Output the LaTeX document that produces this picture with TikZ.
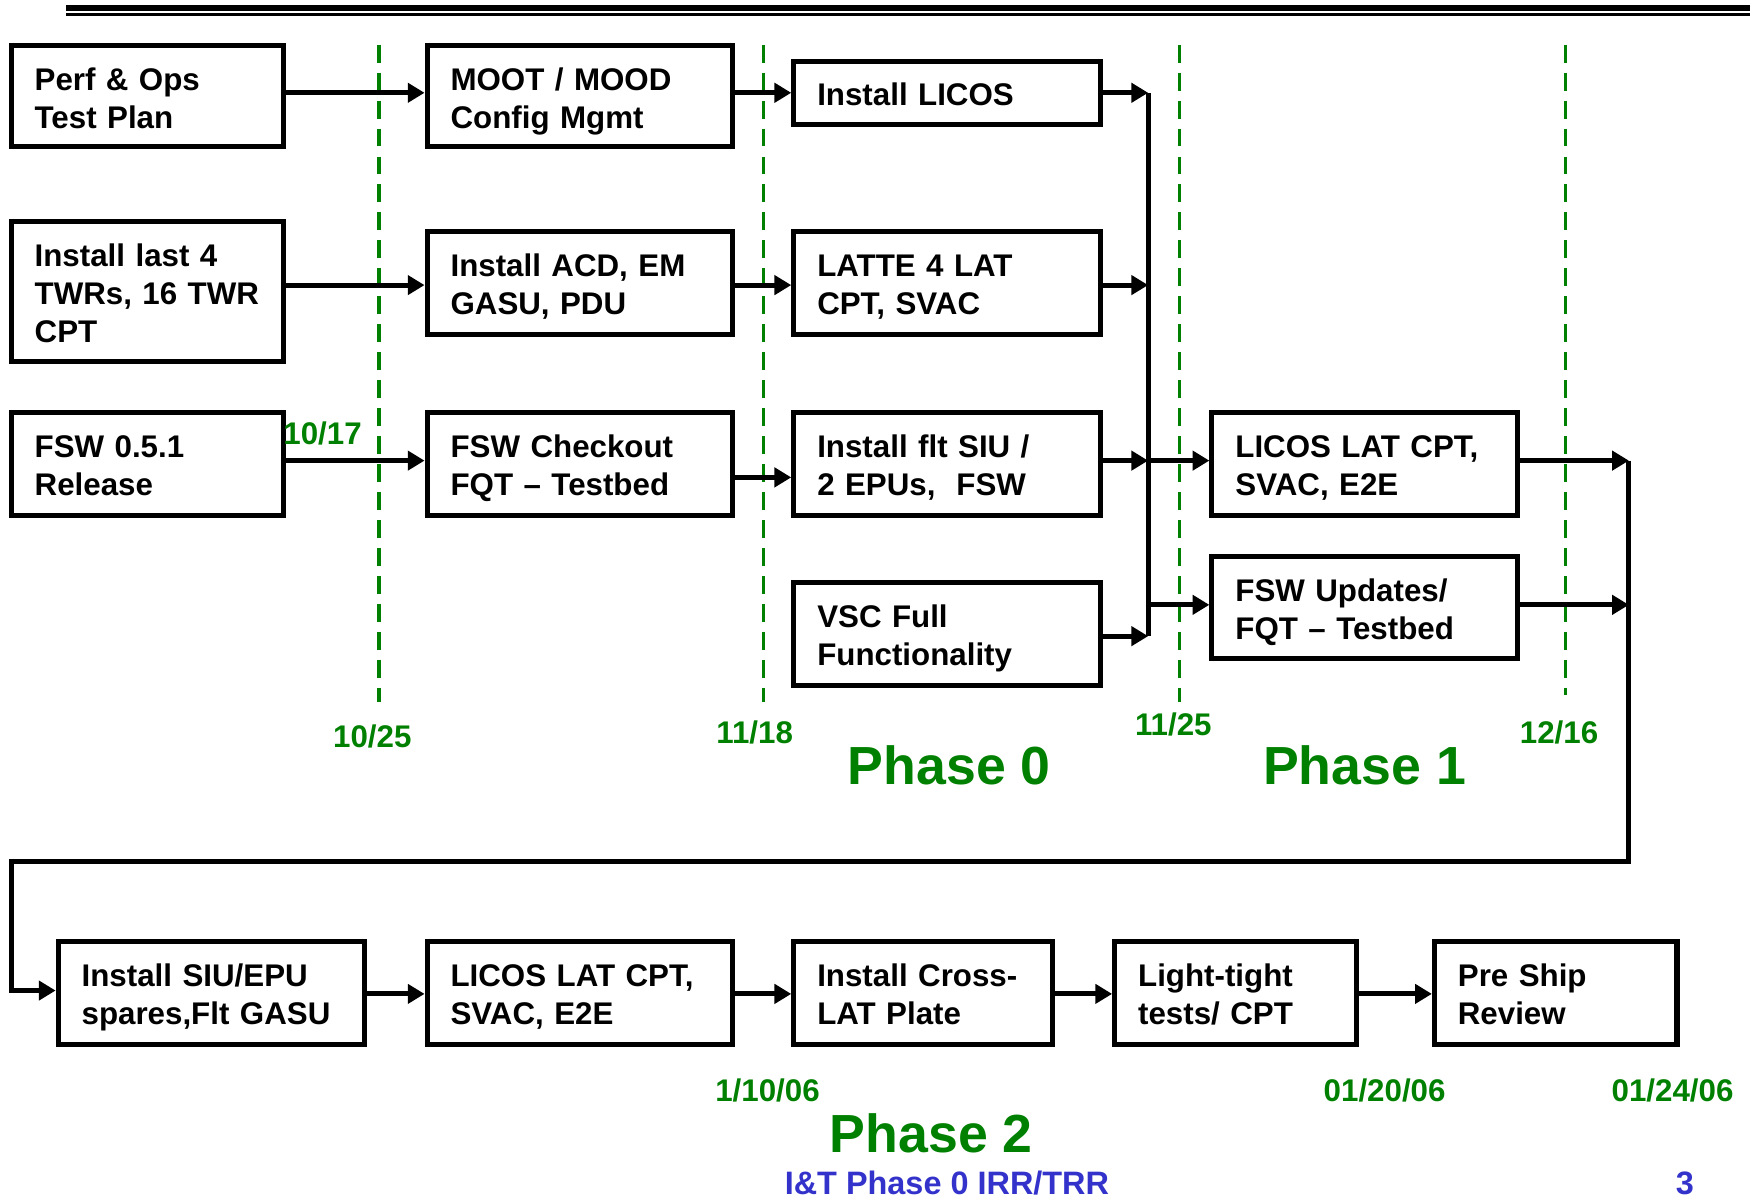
\documentclass[tikz,border=0pt]{standalone}
\usepackage{fontspec}
\setmainfont{Liberation Sans}
\usetikzlibrary{arrows.meta}
\definecolor{dgreen}{RGB}{0,128,0}
\definecolor{fblue}{RGB}{51,51,204}
\newcommand\tstrut{\rule{0pt}{30pt}}
\newcommand\bstrut{\rule[-7pt]{0pt}{7pt}}
\newcommand\boxfont{\bfseries\fontsize{28pt}{34pt}\selectfont}
\newcommand\datefont{\bfseries\fontsize{28pt}{34pt}\selectfont}
\newcommand\phasefont{\bfseries\fontsize{48pt}{56pt}\selectfont}
\newcommand\footfont{\bfseries\fontsize{29pt}{35pt}\selectfont}
\begin{document}
\begin{tikzpicture}[x=1pt,y=-1pt,
  box/.style={draw, line width=4.5pt, rectangle, inner xsep=21pt, inner ysep=0pt,
    align=left, font=\boxfont, execute at begin node=\tstrut, execute at end node=\bstrut},
  arr/.style={line width=4.5pt, -{Triangle[length=15pt,width=17pt]}},
  bus/.style={line width=4.5pt},
  tick/.style={draw=dgreen, line width=3pt, dash pattern=on 16pt off 9pt},
  date/.style={text=dgreen, font=\datefont, anchor=base, inner sep=0pt},
  phase/.style={text=dgreen, font=\phasefont, anchor=base, inner sep=0pt},
  foot/.style={text=fblue, font=\footfont, anchor=base, inner sep=0pt},
]
\useasboundingbox (0,0) rectangle (1568,1074);

% top rules
\draw[line width=6pt] (59,7.2) -- (1565,7.2);
\draw[line width=2.4pt] (59,13.1) -- (1565,13.1);

% milestone dashed lines
\draw[tick] (339,40) -- (339,628);
\draw[tick] (683,40) -- (683,628);
\draw[tick] (1055,40) -- (1055,628);
\draw[tick] (1400,40) -- (1400,622);

% boxes
\node[box, minimum width=244pt, text width=202pt, minimum height=90pt] (A1) at (132,86) {Perf \& Ops\\Test Plan};
\node[box, minimum width=244pt, text width=202pt, minimum height=125pt] (A2) at (132,260.5) {Install last 4\\TWRs, 16 TWR\\CPT};
\node[box, minimum width=244pt, text width=202pt, minimum height=92pt] (A3) at (132,415) {FSW 0.5.1\\Release};

\node[box, minimum width=273pt, text width=231pt, minimum height=90pt] (B1) at (518.5,86) {MOOT / MOOD\\Config Mgmt};
\node[box, minimum width=273pt, text width=231pt, minimum height=92pt] (B2) at (518.5,253) {Install ACD, EM\\GASU, PDU};
\node[box, minimum width=273pt, text width=231pt, minimum height=92pt] (B3) at (518.5,415) {FSW Checkout\\FQT -- Testbed};

\node[box, minimum width=274pt, text width=232pt, minimum height=56pt] (C1) at (847,83) {Install LICOS};
\node[box, minimum width=274pt, text width=232pt, minimum height=92pt] (C2) at (847,253) {LATTE 4 LAT\\CPT, SVAC};
\node[box, minimum width=274pt, text width=232pt, minimum height=92pt] (C3) at (847,415) {Install flt SIU /\\2 EPUs,~ FSW};
\node[box, minimum width=274pt, text width=232pt, minimum height=92pt] (C4) at (847,567) {VSC Full\\Functionality};

\node[box, minimum width=273pt, text width=231pt, minimum height=92pt] (D1) at (1220.5,415) {LICOS LAT CPT,\\SVAC, E2E};
\node[box, minimum width=273pt, text width=231pt, minimum height=91pt] (D2) at (1220.5,543.5) {FSW Updates/\\FQT -- Testbed};

\node[box, minimum width=274pt, text width=232pt, minimum height=92pt] (E1) at (189,888) {Install SIU/EPU\\spares,Flt GASU};
\node[box, minimum width=273pt, text width=231pt, minimum height=92pt] (E2) at (518.5,888) {LICOS LAT CPT,\\SVAC, E2E};
\node[box, minimum width=231pt, text width=189pt, minimum height=92pt] (E3) at (825.5,888) {Install Cross-\\LAT Plate};
\node[box, minimum width=216pt, text width=174pt, minimum height=92pt] (E4) at (1105,888) {Light-tight\\tests/ CPT};
\node[box, minimum width=217pt, text width=175pt, minimum height=92pt] (E5) at (1391.5,888) {Pre Ship\\Review};

% bus coordinates
\coordinate (bt) at (1027,83);
\coordinate (bb) at (1027,569);
\coordinate (rt) at (1457,412);
\coordinate (rc) at (1457,771);
\coordinate (lc) at (10,771);
\coordinate (lb) at (10,886);

% connectors
\draw[arr] (A1.east |- 0,83) -- (B1.west |- 0,83);
\draw[arr] (B1.east |- 0,83) -- (C1.west);
\draw[arr] (A2.east |- 0,255) -- (B2.west |- 0,255);
\draw[arr] (B2.east |- 0,255) -- (C2.west |- 0,255);
\draw[arr] (A3.east |- 0,412) -- (B3.west |- 0,412);
\draw[arr] (B3.east |- 0,427) -- (C3.west |- 0,427);

\draw[bus] (bt) -- (bb);
\draw[arr] (C1.east) -- (bt);
\draw[arr] (C2.east |- 0,255) -- (bt |- 0,255);
\draw[arr] (C3.east |- 0,412) -- (bt |- 0,412);
\draw[arr] (C4.east |- 0,569) -- (bb);
\draw[arr] (bt |- 0,412) -- (D1.west |- 0,412);
\draw[arr] (bt |- 0,541) -- (D2.west |- 0,541);

\draw[arr] (D1.east |- 0,412) -- (rt);
\draw[arr] (D2.east |- 0,541) -- (rt |- 0,541);
\draw[arr] (rt) -- (rc) -- (lc) -- (lb) -- (E1.west |- lb);

\draw[arr] (E1.east |- 0,889) -- (E2.west |- 0,889);
\draw[arr] (E2.east |- 0,889) -- (E3.west |- 0,889);
\draw[arr] (E3.east |- 0,889) -- (E4.west |- 0,889);
\draw[arr] (E4.east |- 0,889) -- (E5.west |- 0,889);

% dates and phases
\node[date] (d1017) at (288.5,398) {10/17};
\node[date] (d1025) at (333,669) {10/25};
\node[date] (d1118) at (675,665) {11/18};
\node[date] (d1125) at (1049.5,658) {11/25};
\node[date] (d1216) at (1394.5,665) {12/16};
\node[phase] (p0) at (849,702) {Phase 0};
\node[phase] (p1) at (1220.5,702) {Phase 1};
\node[date] (d0110) at (686.5,985) {1/10/06};
\node[date] (d0120) at (1238.5,985) {01/20/06};
\node[date] (d0124) at (1496,985) {01/24/06};
\node[phase] (p2) at (833,1031) {Phase 2};

% footer
\node[foot] (ft) at (847,1068) {I\&T Phase 0 IRR/TRR};
\node[foot] (pg) at (1507,1068) {3};
\end{tikzpicture}
\end{document}
